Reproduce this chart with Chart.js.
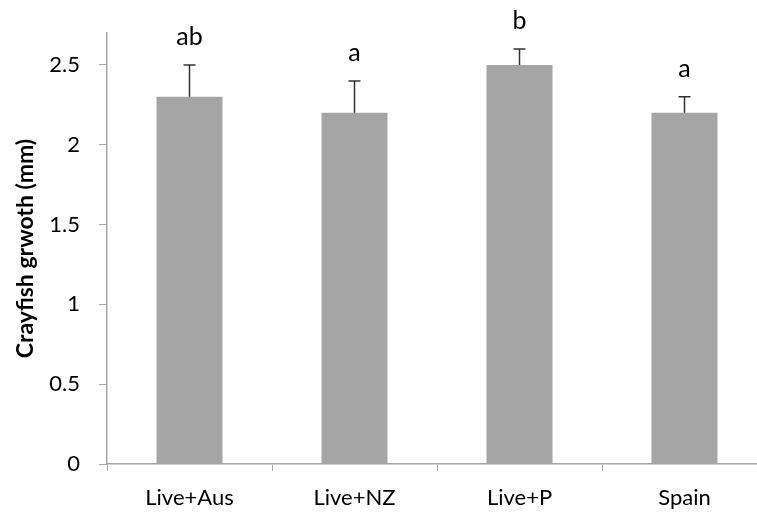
<!DOCTYPE html>
<html>
<head>
<meta charset="utf-8">
<script src="https://cdn.jsdelivr.net/npm/chart.js@4"></script>
<style>
   html, body { margin: 0; padding: 0; overflow: hidden; background: #fff; }
   #wrap { position: relative; width: 800px; height: 515px; }
</style>
</head>
<body>
<div id="wrap"><canvas id="growth-chart"></canvas></div>
<script>
// chart data
const categories = ["Live+Aus", "Live+NZ", "Live+P", "Spain"];
const growth = [2.3, 2.2, 2.5, 2.2];
const errors = [0.2, 0.2, 0.1, 0.1];
const letters = ["ab", "a", "b", "a"];
const yTicks = [0, 0.5, 1, 1.5, 2, 2.5];

const axisGray = "#a6a6a6";
const fontFamily = "Lato, 'Liberation Sans', sans-serif";

// error bars + significance letters
const errorBarPlugin = {
   id: "errorBars",
   afterDatasetsDraw(chart) {
      const ctx = chart.ctx;
      const y = chart.scales.y;
      const meta = chart.getDatasetMeta(0);
      ctx.save();
      meta.data.forEach((bar, i) => {
         const top = y.getPixelForValue(growth[i]);
         const errTop = y.getPixelForValue(growth[i] + errors[i]);
         ctx.strokeStyle = "#333";
         ctx.lineWidth = 1.5;
         ctx.beginPath();
         ctx.moveTo(bar.x, top);
         ctx.lineTo(bar.x, errTop);
         ctx.moveTo(bar.x - 6, errTop);
         ctx.lineTo(bar.x + 6, errTop);
         ctx.stroke();

         ctx.fillStyle = "#000";
         ctx.font = "25px " + fontFamily;
         ctx.textAlign = "center";
         ctx.textBaseline = "alphabetic";
         ctx.fillText(letters[i], bar.x, errTop - 20);
      });
      ctx.restore();
   },
};

const ctx = document.getElementById("growth-chart").getContext("2d");
const growthChart = new Chart(ctx, {
   type: "bar",
   data: {
      labels: categories,
      datasets: [
         {
            data: growth,
            backgroundColor: "#a5a5a5",
            borderWidth: 0,
            categoryPercentage: 0.8,
            barPercentage: 0.5,
         },
      ],
   },
   options: {
      responsive: true,
      maintainAspectRatio: false,
      animation: false,
      layout: { padding: { top: 33, right: 33, left: 0, bottom: 0 } },
      plugins: {
         legend: { display: false },
         tooltip: { enabled: false },
      },
      scales: {
         x: {
            grid: { drawOnChartArea: false, drawTicks: true, tickLength: 7, color: axisGray },
            border: { color: axisGray, width: 1.5 },
            ticks: { color: "#000", padding: 14, font: { family: fontFamily, size: 22 } },
            afterFit(scale) {
               scale.height = 51;
            },
         },
         y: {
            min: 0,
            max: 2.7,
            afterBuildTicks(scale) {
               scale.ticks = yTicks.map((v) => ({ value: v }));
            },
            grid: { drawOnChartArea: false, drawTicks: true, tickLength: 8, color: axisGray },
            border: { color: axisGray, width: 1.5 },
            ticks: {
               color: "#000",
               padding: 19,
               font: { family: fontFamily, size: 22 },
               callback: (v) => String(v),
            },
            title: {
               display: true,
               text: "Crayfish grwoth (mm)",
               color: "#000",
               padding: { top: 12, bottom: 0 },
               font: { family: fontFamily, size: 23, weight: "bold" },
            },
            afterFit(scale) {
               scale.width = 107;
            },
         },
      },
   },
   plugins: [errorBarPlugin],
});
</script>
</body>
</html>
